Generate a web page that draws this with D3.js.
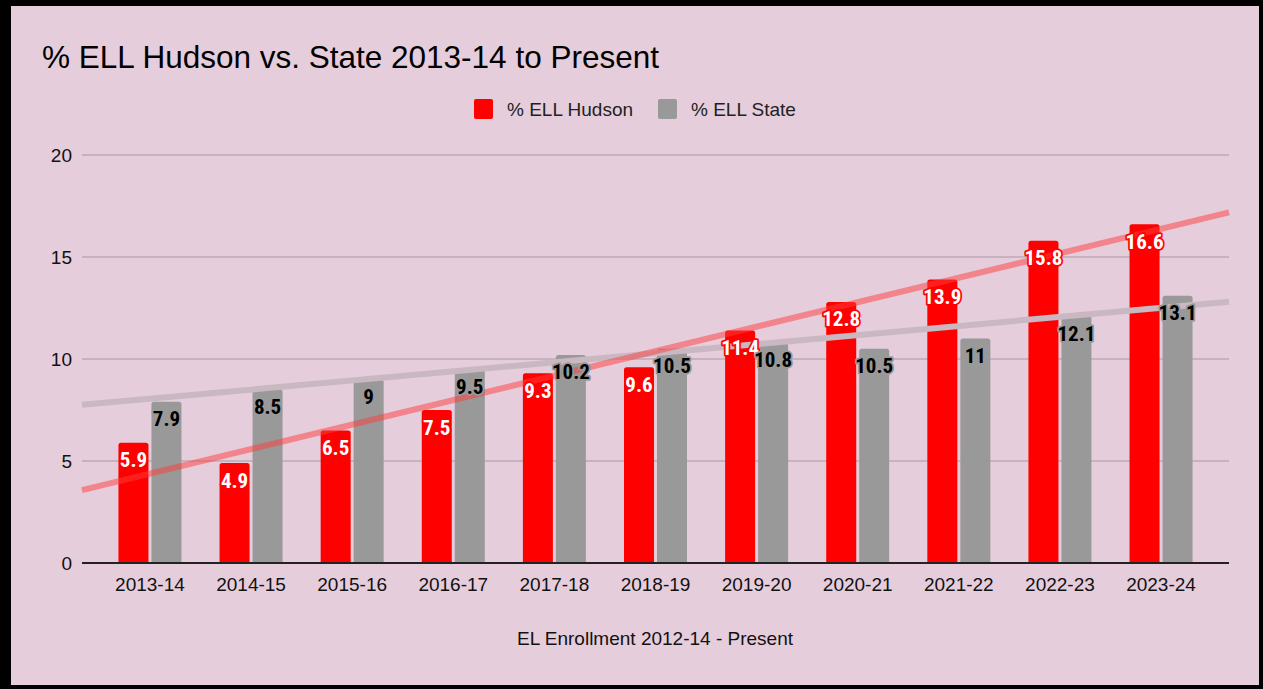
<!DOCTYPE html>
<html>
<head>
<meta charset="utf-8">
<script src="https://cdn.jsdelivr.net/npm/d3@7"></script>
<style>
  html, body { margin: 0; padding: 0; background: #000; }
  svg { display: block; font-family: "Liberation Sans", Arial, sans-serif; }
</style>
</head>
<body>
<svg id="chart" width="1263" height="689"></svg>
<script>
// School years on the x axis
const years = ["2013-14", "2014-15", "2015-16", "2016-17", "2017-18", "2018-19",
               "2019-20", "2020-21", "2021-22", "2022-23", "2023-24"];
// Percent of English language learners
const hudson = [5.9, 4.9, 6.5, 7.5, 9.3, 9.6, 11.4, 12.8, 13.9, 15.8, 16.6];
const state  = [7.9, 8.5, 9, 9.5, 10.2, 10.5, 10.8, 10.5, 11, 12.1, 13.1];
const yTicks = [0, 5, 10, 15, 20];
const seriesNames = ["% ELL Hudson", "% ELL State"];

(function draw() {
const W = 1263, H = 689;
const svg = d3.select("#chart");

// frame
svg.append("rect").attr("x", 0).attr("y", 0).attr("width", W).attr("height", H).attr("fill", "#000");
svg.append("rect").attr("x", 11).attr("y", 6).attr("width", 1248).attr("height", 679).attr("fill", "#e5cddc");

const pLeft = 82, pRight = 1229, pTop = 155, pBottom = 563;

const x = d3.scalePoint().domain(years).range([pLeft, pRight]).padding(0.672);
const y = d3.scaleLinear().domain([0, 20]).range([pBottom, pTop]);

// title
svg.append("text").attr("x", 42).attr("y", 68)
  .attr("font-size", 31.5).attr("fill", "#000")
  .text("% ELL Hudson vs. State 2013-14 to Present");

// legend
const legend = [{ name: seriesNames[0], color: "#ff0000", x: 474 },
                { name: seriesNames[1], color: "#999999", x: 658 }];
legend.forEach(l => {
  svg.append("rect").attr("x", l.x).attr("y", 99).attr("width", 19).attr("height", 20)
    .attr("rx", 2).attr("fill", l.color);
  svg.append("text").attr("x", l.x + 33).attr("y", 116).attr("font-size", 19)
    .attr("fill", "#222").text(l.name);
});

// gridlines + y tick labels
const yAxis = svg.append("g");
yTicks.forEach(t => {
  yAxis.append("line").attr("x1", pLeft).attr("x2", pRight)
    .attr("y1", y(t)).attr("y2", y(t))
    .attr("stroke", t === 0 ? "#222" : "#a8999f").attr("stroke-width", t === 0 ? 2 : 1.2);
  yAxis.append("text").attr("x", 72).attr("y", y(t) + 7)
    .attr("text-anchor", "end").attr("font-size", 19).attr("fill", "#111").text(t);
});

// bars
const bw = 30, gap = 3;
function topRounded(x0, y0, w, h, r) {
  return `M${x0},${y0 + h} V${y0 + r} Q${x0},${y0} ${x0 + r},${y0} H${x0 + w - r} Q${x0 + w},${y0} ${x0 + w},${y0 + r} V${y0 + h} Z`;
}
const gBars = svg.append("g");
years.forEach((yr, i) => {
  const cx = x(yr);
  const hy = y(hudson[i]), sy = y(state[i]);
  gBars.append("path").attr("d", topRounded(cx - gap / 2 - bw, hy, bw, pBottom - hy, 2.5)).attr("fill", "#ff0000");
  gBars.append("path").attr("d", topRounded(cx + gap / 2, sy, bw, pBottom - sy, 2.5)).attr("fill", "#999999");
});
// baseline over bars
svg.append("line").attr("x1", pLeft).attr("x2", pRight).attr("y1", pBottom).attr("y2", pBottom)
  .attr("stroke", "#222").attr("stroke-width", 2);

// linear trendlines (least squares over the category index)
function fit(vals) {
  const n = vals.length, mx = (n - 1) / 2, my = d3.mean(vals);
  let sxy = 0, sxx = 0;
  vals.forEach((v, i) => { sxy += (i - mx) * (v - my); sxx += (i - mx) * (i - mx); });
  const b = sxy / sxx;
  return i => my + b * (i - mx);
}
const step = x.step();
const iLeft = (pLeft - x(years[0])) / step;
const iRight = (pRight - x(years[0])) / step;
const trends = [{ f: fit(state), color: "#c9b7c1", op: 1 },
                { f: fit(hudson), color: "#ff3b3b", op: 0.5 }];
trends.forEach(t => {
  svg.append("line")
    .attr("x1", pLeft).attr("y1", y(t.f(iLeft)))
    .attr("x2", pRight).attr("y2", y(t.f(iRight)))
    .attr("stroke", t.color).attr("stroke-opacity", t.op).attr("stroke-width", 6);
});

// value labels
const gLab = svg.append("g").attr("font-family", "'Liberation Sans Narrow', 'Roboto Condensed', Roboto, sans-serif")
  .attr("font-weight", "bold").attr("font-size", 21).attr("text-anchor", "middle");
years.forEach((yr, i) => {
  const cx = x(yr);
  gLab.append("text").attr("x", cx - gap / 2 - bw / 2).attr("y", y(hudson[i]) + 24.5)
    .attr("fill", "#fff").attr("stroke", "#ff0000").attr("stroke-width", 3.5)
    .attr("paint-order", "stroke").attr("stroke-linejoin", "round").text(hudson[i]);
  gLab.append("text").attr("x", cx + gap / 2 + bw / 2).attr("y", y(state[i]) + 24.5)
    .attr("fill", "#000").attr("stroke", "#999999").attr("stroke-width", 3.5)
    .attr("paint-order", "stroke").attr("stroke-linejoin", "round").text(state[i]);
});

// x tick labels
years.forEach(yr => {
  svg.append("text").attr("x", x(yr)).attr("y", 591).attr("text-anchor", "middle")
    .attr("font-size", 19).attr("fill", "#111").text(yr);
});

// x axis title
svg.append("text").attr("x", 655).attr("y", 645).attr("text-anchor", "middle")
  .attr("font-size", 19).attr("fill", "#111").text("EL Enrollment 2012-14 - Present");
})();
</script>
</body>
</html>
